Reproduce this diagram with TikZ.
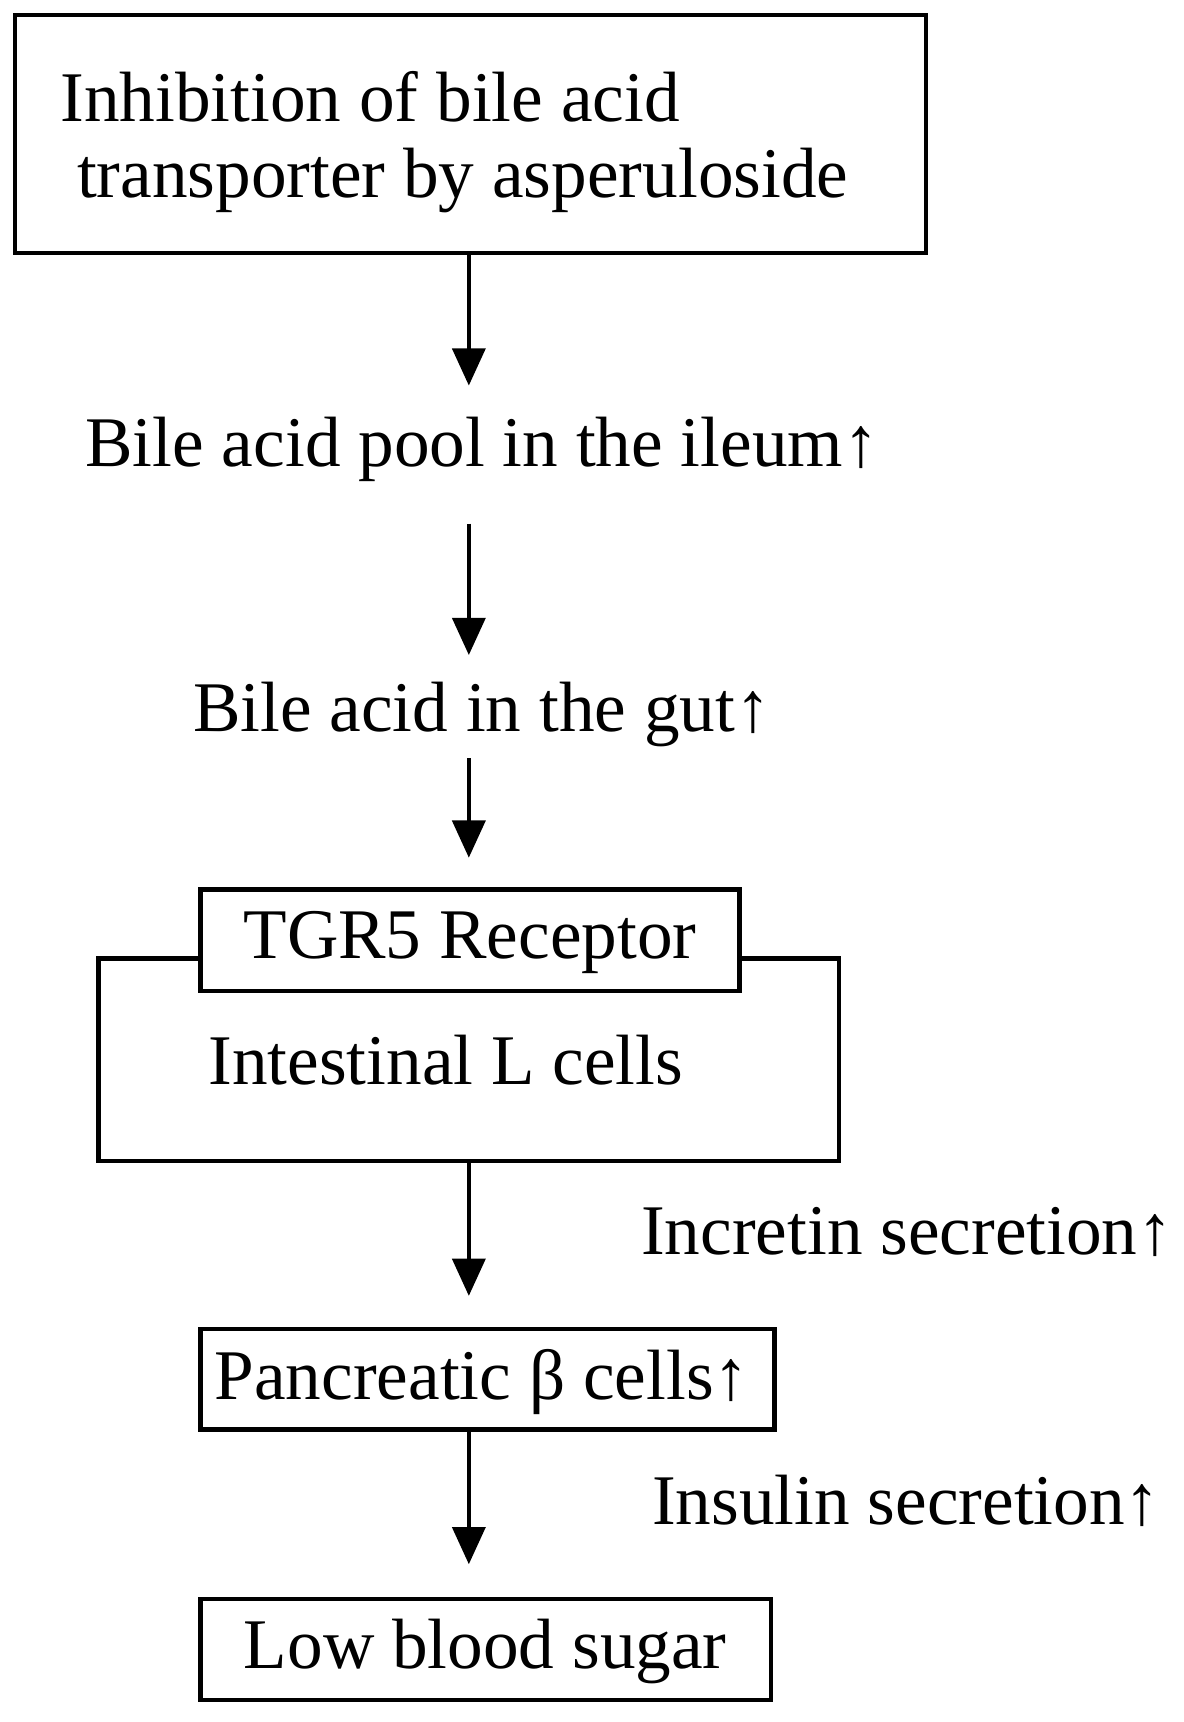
\documentclass[tikz,border=0pt]{standalone}
\usepackage{fontspec}
\setmainfont{Liberation Serif}
\usetikzlibrary{arrows.meta}
\begin{document}
\begin{tikzpicture}[x=0.02cm,y=-0.02cm,
  txt/.style={font=\fontsize{37}{44}\selectfont,inner sep=0pt},
  bx/.style={draw,line width=2.2pt},
  arr/.style={line width=2.2pt,-{Triangle[width=30*0.02cm,length=34*0.02cm]}}]
\useasboundingbox (0,0) rectangle (1080,1572);
\draw[bx] (14,14) rectangle (845,231);
\node[txt,anchor=west] (t1a) at (55,88) {Inhibition of bile acid};
\node[txt,anchor=west] (t1b) at (70,165) {transporter by asperuloside};
\coordinate (b1) at (428,231);
\coordinate (a1) at (428,352);
\draw[arr] (b1) -- (a1);
\node[txt] (t2) at (440,410) {Bile acid pool in the ileum↑};
\coordinate (b2) at (428,478);
\coordinate (a2) at (428,598);
\draw[arr] (b2) -- (a2);
\node[txt] (t3) at (440,652) {Bile acid in the gut↑};
\coordinate (b3) at (428,692);
\coordinate (a3) at (428,783);
\draw[arr] (b3) -- (a3);
\draw[bx] (90,875) rectangle (766,1060);
\draw[bx,fill=white] (183,812) rectangle (675,905);
\node[txt] (tgr) at (429,860) {TGR5 Receptor};
\node[txt] (il) at (407,968) {Intestinal L cells};
\coordinate (b4) at (428,1060);
\coordinate (a4) at (428,1183);
\draw[arr] (b4) -- (a4);
\node[txt,anchor=west] (inc) at (585,1125) {Incretin secretion↑};
\draw[bx] (183,1213) rectangle (707,1305);
\node[txt] (pan) at (440,1262) {Pancreatic β cells↑};
\coordinate (b5) at (428,1305);
\coordinate (a5) at (428,1428);
\draw[arr] (b5) -- (a5);
\node[txt,anchor=west] (ins) at (595,1370) {Insulin secretion↑};
\draw[bx] (183,1460) rectangle (704,1552);
\node[txt] (low) at (443,1508) {Low blood sugar};
\end{tikzpicture}
\end{document}
